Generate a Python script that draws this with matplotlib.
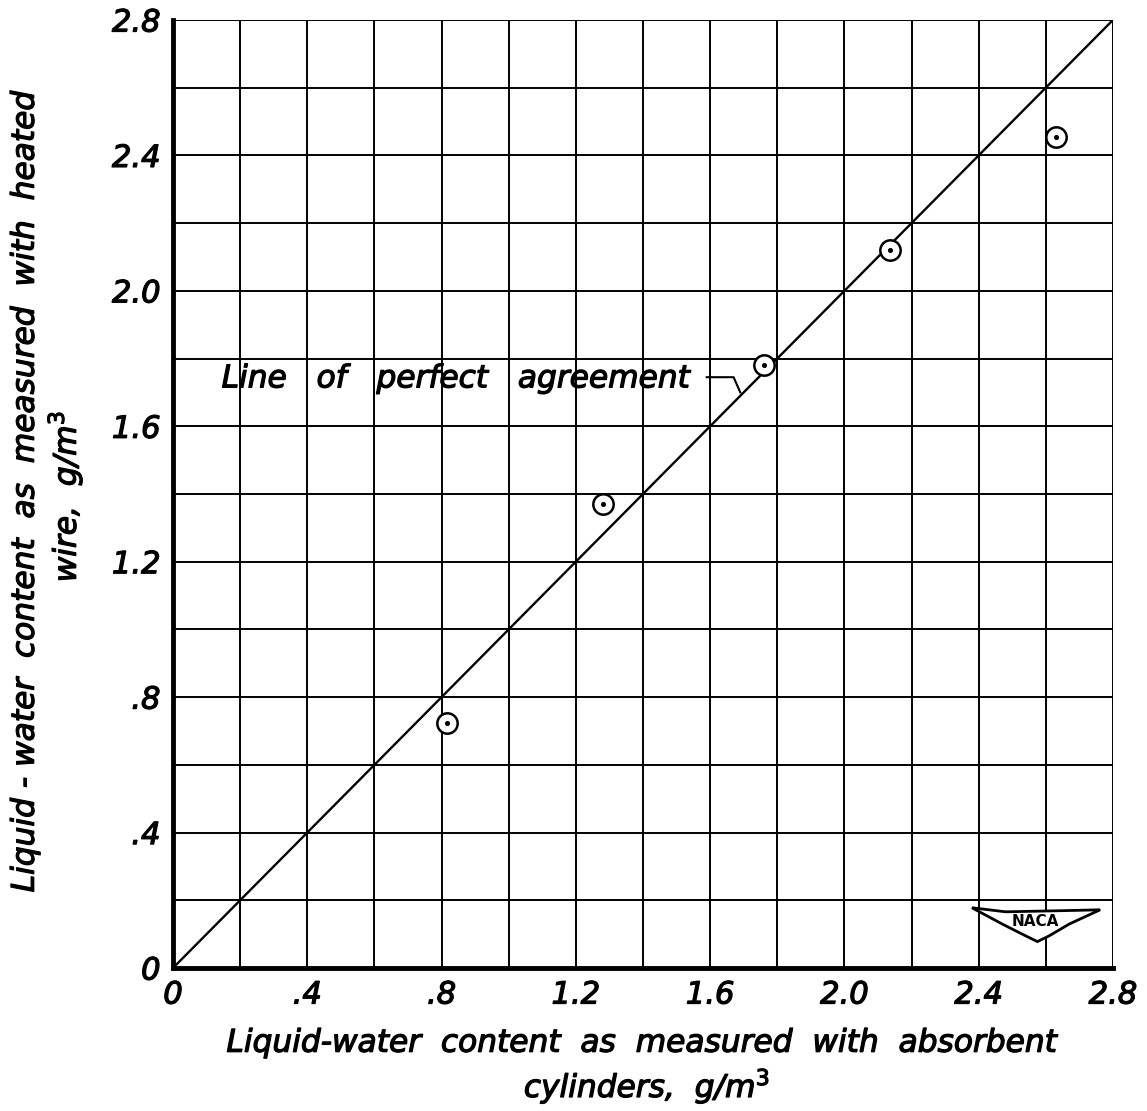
import matplotlib.pyplot as plt
import matplotlib.patheffects as pe
import numpy as np

# data
x_absorbent = [0.815, 1.28, 1.76, 2.135, 2.63]
y_heated = [0.725, 1.37, 1.78, 2.12, 2.455]
ticks = [0, 0.4, 0.8, 1.2, 1.6, 2.0, 2.4, 2.8]
tick_labels = ['0', '.4', '.8', '1.2', '1.6', '2.0', '2.4', '2.8']
grid_vals = np.arange(0, 2.81, 0.2)

plt.rcParams['font.family'] = 'DejaVu Sans'
fs = 22.5
# thicken strokes a little, like hand lettering
thick = [pe.withStroke(linewidth=0.9, foreground='black')]

fig = plt.figure(figsize=(11.47, 11.11), dpi=100)
fig.set_facecolor('white')
ax = fig.add_axes([0.1508, 0.1287, 0.8195, 0.8533])

for g in grid_vals:
    ax.axvline(g, color='black', lw=1.4, zorder=1)
    ax.axhline(g, color='black', lw=1.4, zorder=1)

# line of perfect agreement
ax.plot([0, 2.8], [0, 2.8], color='black', lw=1.7, zorder=2)

ax.scatter(x_absorbent, y_heated, s=215, facecolor='white', edgecolor='black', linewidths=1.8, zorder=3)
ax.scatter(x_absorbent, y_heated, s=7, color='black', zorder=4)

ax.text(0.145, 1.74, 'Line   of   perfect   agreement', fontsize=fs, style='italic',
        va='center', ha='left', path_effects=thick)
ax.plot([1.59, 1.67, 1.69], [1.745, 1.745, 1.70], color='black', lw=1.5)

ax.set_xlim(0, 2.8)
ax.set_ylim(0, 2.8)
ax.set_xticks(ticks)
ax.set_yticks(ticks)
ax.set_xticklabels(tick_labels)
ax.set_yticklabels(tick_labels)
for lbl in ax.get_xticklabels() + ax.get_yticklabels():
    lbl.set_fontsize(22)
    lbl.set_fontstyle('italic')
    lbl.set_path_effects(thick)
ax.tick_params(length=0, pad=9)

for side in ['top', 'right']:
    ax.spines[side].set_visible(False)
ax.spines['left'].set_linewidth(3.5)
ax.spines['bottom'].set_linewidth(3.5)

# NACA badge
wing_x = [2.38, 2.48, 2.58, 2.68, 2.762, 2.67, 2.61, 2.575, 2.54, 2.47, 2.38]
wing_y = [0.178, 0.166, 0.168, 0.170, 0.172, 0.13, 0.095, 0.078, 0.095, 0.13, 0.178]
ax.fill(wing_x, wing_y, facecolor='white', edgecolor='black', lw=2.0, zorder=5)
ax.text(2.57, 0.138, 'NACA', fontsize=11, weight='bold', ha='center', va='center', zorder=6)

fig.text(0.559, 0.061, 'Liquid-water  content  as  measured  with  absorbent',
         fontsize=fs, style='italic', ha='center', va='center', path_effects=thick)
fig.text(0.564, 0.022, 'cylinders,  g/m$^3$', fontsize=fs, style='italic',
         ha='center', va='center', path_effects=thick)
fig.text(0.022, 0.557, 'Liquid - water  content  as  measured  with  heated',
         fontsize=fs, style='italic', rotation=90, ha='center', va='center', path_effects=thick)
fig.text(0.057, 0.553, 'wire,  g/m$^3$', fontsize=fs, style='italic',
         rotation=90, ha='center', va='center', path_effects=thick)

fig.savefig('out.png', dpi=100)
